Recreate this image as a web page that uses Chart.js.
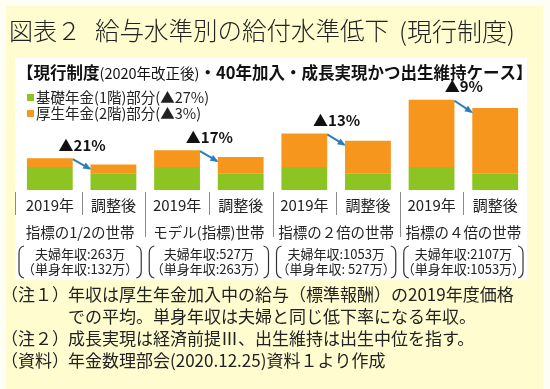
<!DOCTYPE html>
<html>
<head>
<meta charset="utf-8">
<script src="https://cdn.jsdelivr.net/npm/chart.js@4.4.0/dist/chart.umd.min.js"></script>
<style>
  html, body { margin: 0; padding: 0; background: #fff; }
</style>
</head>
<body>
<canvas id="chart" width="550" height="389"></canvas>
<script>
// data (万円/月 equivalent, estimated)
var categories = ['2019年', '調整後', '2019年', '調整後', '2019年', '調整後', '2019年', '調整後'];
var basicPension = [13.0, 9.5, 13.0, 9.5, 13.0, 9.5, 13.0, 9.5];
var employeePension = [5.0, 4.9, 9.5, 9.2, 19.0, 18.4, 38.0, 36.9];
var groups = ['指標の1/2の世帯', 'モデル(指標)世帯', '指標の２倍の世帯', '指標の４倍の世帯'];
var coupleIncome = ['夫婦年収:263万', '夫婦年収:527万', '夫婦年収:1053万', '夫婦年収:2107万'];
var singleIncome = ['（単身年収:132万）', '（単身年収:263万）', '（単身年収: 527万）', '（単身年収:1053万）'];
var dropLabels = ['▲21%', '▲17%', '▲13%', '▲9%'];
var seriesNames = ['基礎年金(1階)部分(▲27%)', '厚生年金(2階)部分(▲3%)'];

var FONT = '"Noto Sans CJK JP", "Noto Sans", sans-serif';
var GREEN = '#8cc421';
var ORANGE = '#f7961c';
var ARROW = '#2b7fb8';

function drawRuns(ctx, runs, x, y) {
  runs.forEach(function (r) {
    ctx.font = r.font;
    ctx.fillText(r.text, x, y);
    x += ctx.measureText(r.text).width;
  });
}

var decor = {
  id: 'decor',
  beforeDraw: function (chart) {
    var ctx = chart.ctx;
    ctx.save();
    ctx.fillStyle = '#fefef4';
    ctx.fillRect(0, 0, 550, 389);
    ctx.fillStyle = '#fffdd0';
    ctx.fillRect(6, 6, 537, 383);
    ctx.fillStyle = '#ffffff';
    ctx.fillRect(15, 58, 512, 222);
    ctx.restore();
  },
  afterDatasetsDraw: function (chart) {
    var ctx = chart.ctx;
    var x = chart.scales.x;
    var area = chart.chartArea;
    var top = chart.getDatasetMeta(1).data;
    ctx.save();
    ctx.textBaseline = 'middle';
    ctx.fillStyle = '#222';

    // title
    ctx.font = '300 24px ' + FONT;
    ctx.fillText('図表２', 9, 31);
    ctx.font = '300 24.5px ' + FONT;
    ctx.fillText('給与水準別の給付水準低下', 95, 31);
    ctx.font = '300 25px ' + FONT;
    ctx.fillText('(現行制度)', 399, 31);

    // header
    ctx.fillStyle = '#111';
    drawRuns(ctx, [
      { text: '【現行制度', font: 'bold 16.5px ' + FONT },
      { text: '(2020年改正後)', font: '14.5px ' + FONT },
      { text: '・40年加入・成長実現かつ出生維持ケース】', font: 'bold 16.5px ' + FONT }
    ], 17, 73);

    // legend
    ctx.font = '14.5px ' + FONT;
    [GREEN, ORANGE].forEach(function (c, i) {
      var ly = 97 + i * 16;
      ctx.fillStyle = c;
      ctx.fillRect(27, ly - 3, 7, 7);
      ctx.fillStyle = '#222';
      ctx.fillText(seriesNames[i], 36, ly);
    });

    // arrows + drop labels
    for (var g = 0; g < 4; g++) {
      var a = top[g * 2], b = top[g * 2 + 1];
      var x1 = a.x + a.width / 2, y1 = a.y + 1;
      var x2 = b.x - b.width / 2 - 1, y2 = b.y + 4;
      ctx.strokeStyle = ARROW;
      ctx.fillStyle = ARROW;
      ctx.lineWidth = 2;
      ctx.beginPath();
      ctx.moveTo(x1, y1);
      ctx.lineTo(x2, y2);
      ctx.stroke();
      var ang = Math.atan2(y2 - y1, x2 - x1);
      ctx.beginPath();
      ctx.moveTo(x2 + 2 * Math.cos(ang), y2 + 2 * Math.sin(ang));
      ctx.lineTo(x2 - 7 * Math.cos(ang - 0.5), y2 - 7 * Math.sin(ang - 0.5));
      ctx.lineTo(x2 - 7 * Math.cos(ang + 0.5), y2 - 7 * Math.sin(ang + 0.5));
      ctx.closePath();
      ctx.fill();
      ctx.fillStyle = '#111';
      ctx.font = 'bold 15px ' + FONT;
      ctx.textAlign = 'center';
      ctx.fillText(dropLabels[g], (x1 + x2) / 2 + 1, a.y - 13);
      ctx.textAlign = 'left';
    }

    // category table below the bars
    var n = categories.length;
    function edge(i) {
      if (i <= 0) return area.left - 3;
      if (i >= n) return area.right;
      return (x.getPixelForValue(i - 1) + x.getPixelForValue(i)) / 2;
    }
    ctx.strokeStyle = '#8a8a8a';
    ctx.lineWidth = 1;
    for (var i = 0; i < n; i++) {
      var e = Math.round(edge(i)) + 0.5;
      var bottom = (i % 2 === 0 && i > 0) ? 237 : 215;
      ctx.beginPath();
      ctx.moveTo(e, 192);
      ctx.lineTo(e, bottom);
      ctx.stroke();
    }
    ctx.textAlign = 'center';
    ctx.fillStyle = '#222';
    ctx.font = '15px ' + FONT;
    for (i = 0; i < n; i++) {
      ctx.fillText(categories[i], x.getPixelForValue(i), 205);
    }
    for (g = 0; g < 4; g++) {
      var l = edge(g * 2), r = edge(g * 2 + 2);
      var cx = (l + r) / 2;
      ctx.font = '14.5px ' + FONT;
      ctx.fillText(groups[g], cx, 232);
      ctx.font = '13px ' + FONT;
      ctx.fillText(coupleIncome[g], cx, 254);
      ctx.fillText(singleIncome[g], cx, 269);
      // big parentheses
      var bt = 246, bb = 278;
      ctx.strokeStyle = '#333';
      ctx.lineWidth = 1.2;
      ctx.beginPath();
      ctx.moveTo(l + 9, bt);
      ctx.quadraticCurveTo(l + 4, bt + 1, l + 4, bt + 7);
      ctx.lineTo(l + 4, bb - 7);
      ctx.quadraticCurveTo(l + 4, bb - 1, l + 9, bb);
      ctx.stroke();
      ctx.beginPath();
      ctx.moveTo(r - 9, bt);
      ctx.quadraticCurveTo(r - 4, bt + 1, r - 4, bt + 7);
      ctx.lineTo(r - 4, bb - 7);
      ctx.quadraticCurveTo(r - 4, bb - 1, r - 9, bb);
      ctx.stroke();
    }

    // notes
    ctx.textAlign = 'left';
    ctx.fillStyle = '#222';
    ctx.font = '17px ' + FONT;
    var notes = [
      ['（注１）', '年収は厚生年金加入中の給与（標準報酬）の2019年度価格'],
      ['', 'での平均。単身年収は夫婦と同じ低下率になる年収。'],
      ['（注２）', '成長実現は経済前提Ⅲ、出生維持は出生中位を指す。'],
      ['（資料）', '年金数理部会(2020.12.25)資料１より作成']
    ];
    notes.forEach(function (nt, k) {
      var ny = 295 + k * 22;
      ctx.fillText(nt[0], 1, ny);
      ctx.fillText(nt[1], 68, ny);
    });
    ctx.restore();
  }
};

new Chart(document.getElementById('chart'), {
  type: 'bar',
  data: {
    labels: categories,
    datasets: [
      { label: seriesNames[0], data: basicPension, backgroundColor: GREEN, borderWidth: 0 },
      { label: seriesNames[1], data: employeePension, backgroundColor: ORANGE, borderWidth: 0 }
    ]
  },
  options: {
    responsive: false,
    animation: false,
    devicePixelRatio: 1,
    layout: { padding: { left: 18, right: 23, top: 58, bottom: 199 } },
    datasets: { bar: { barPercentage: 0.72, categoryPercentage: 1.0 } },
    scales: {
      x: { stacked: true, display: false },
      y: { stacked: true, display: false, min: 0, max: 74.6 }
    },
    plugins: { legend: { display: false }, tooltip: { enabled: false } }
  },
  plugins: [decor]
});
</script>
</body>
</html>
